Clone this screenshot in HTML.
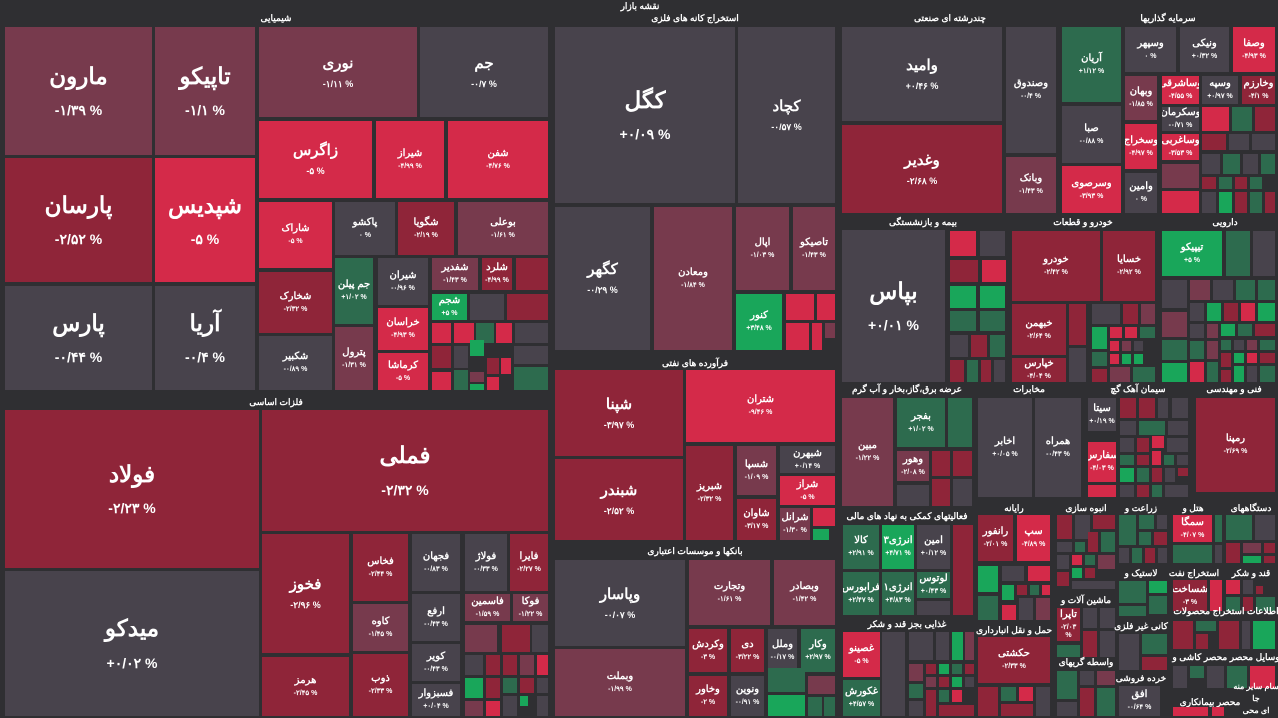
<!DOCTYPE html>
<html><head><meta charset="utf-8"><style>
*{margin:0;padding:0;box-sizing:border-box}
body{width:1278px;height:718px;background:#2f2f32;position:relative;overflow:hidden;font-family:"Liberation Sans","Noto Sans CJK SC",sans-serif;color:#fff;direction:rtl}
.t{position:absolute;display:flex;flex-direction:column;align-items:center;justify-content:center;text-align:center;overflow:hidden;line-height:1.2;font-weight:bold}
.t span{display:block}
.t span+span{direction:ltr;unicode-bidi:isolate}
.g{background:#48434c}.m{background:#773a4d}.d{background:#8f2539}.r{background:#d42a49}.gd{background:#2d6b4e}.gb{background:#19a65a}
.L{font-size:23px}.L span+span{font-size:14px;margin-top:12px}
.M{font-size:15px}.M span+span{font-size:9px;margin-top:6px}
.S{font-size:10px}.S span+span{font-size:7px;margin-top:3px}
.lb{position:absolute;font-size:9px;font-weight:bold;color:#fff;white-space:nowrap;transform:translateX(-50%)}
</style></head><body>
<div class="lb" style="left:640px;top:1px">نقشه بازار</div>
<!-- شیمیایی -->
<div class="lb" style="left:276px;top:13px">شیمیایی</div>
<div class="t m L" style="left:5px;top:27px;width:147px;height:128px"><span>مارون</span><span>-۱/۳۹ %</span></div>
<div class="t m L" style="left:155px;top:27px;width:100px;height:128px"><span>تاپیکو</span><span>-۱/۱ %</span></div>
<div class="t m M" style="left:259px;top:27px;width:158px;height:90px"><span>نوری</span><span>-۱/۱۱ %</span></div>
<div class="t g M" style="left:420px;top:27px;width:128px;height:90px"><span>جم</span><span>-۰/۷ %</span></div>
<div class="t d L" style="left:5px;top:158px;width:147px;height:124px"><span>پارسان</span><span>-۲/۵۲ %</span></div>
<div class="t r L" style="left:155px;top:158px;width:100px;height:124px"><span>شپدیس</span><span>-۵ %</span></div>
<div class="t g L" style="left:5px;top:286px;width:147px;height:104px"><span>پارس</span><span>-۰/۴۴ %</span></div>
<div class="t g L" style="left:155px;top:286px;width:100px;height:104px"><span>آریا</span><span>-۰/۴ %</span></div>
<div class="t r M" style="left:259px;top:121px;width:113px;height:77px"><span>زاگرس</span><span>-۵ %</span></div>
<div class="t r S" style="left:376px;top:121px;width:68px;height:77px"><span>شیراز</span><span>-۴/۹۹ %</span></div>
<div class="t r S" style="left:448px;top:121px;width:100px;height:77px"><span>شفن</span><span>-۴/۷۶ %</span></div>
<div class="t r S" style="left:259px;top:202px;width:73px;height:66px"><span>شاراک</span><span>-۵ %</span></div>
<div class="t g S" style="left:335px;top:202px;width:60px;height:53px"><span>پاکشو</span><span>۰ %</span></div>
<div class="t d S" style="left:398px;top:202px;width:56px;height:53px"><span>شگویا</span><span>-۲/۱۹ %</span></div>
<div class="t m S" style="left:458px;top:202px;width:90px;height:53px"><span>بوعلی</span><span>-۱/۶۱ %</span></div>
<div class="t d S" style="left:259px;top:272px;width:73px;height:61px"><span>شخارک</span><span>-۲/۳۲ %</span></div>
<div class="t g S" style="left:259px;top:336px;width:73px;height:54px"><span>شکبیر</span><span>-۰/۸۹ %</span></div>
<div class="t gd S" style="left:335px;top:258px;width:38px;height:66px"><span>جم پیلن</span><span>+۱/۰۲ %</span></div>
<div class="t m S" style="left:335px;top:327px;width:38px;height:63px"><span>پترول</span><span>-۱/۳۱ %</span></div>
<div class="t g S" style="left:378px;top:258px;width:50px;height:47px"><span>شیران</span><span>-۰/۹۶ %</span></div>
<div class="t r S" style="left:378px;top:308px;width:50px;height:42px"><span>خراسان</span><span>-۴/۹۳ %</span></div>
<div class="t r S" style="left:378px;top:353px;width:50px;height:37px"><span>کرماشا</span><span>-۵ %</span></div>
<div class="t m S" style="left:432px;top:258px;width:46px;height:32px"><span>شفدیر</span><span>-۱/۴۳ %</span></div>
<div class="t d S" style="left:482px;top:258px;width:30px;height:32px"><span>شلرد</span><span>-۴/۹۹ %</span></div>
<div class="t d" style="left:516px;top:258px;width:32px;height:32px"></div>
<div class="t gb S" style="left:432px;top:294px;width:35px;height:26px"><span>شجم</span><span>+۵ %</span></div>
<div class="t g" style="left:470px;top:294px;width:34px;height:26px"></div>
<div class="t d" style="left:507px;top:294px;width:41px;height:26px"></div>
<div class="t r" style="left:432px;top:323px;width:19px;height:20px"></div>
<div class="t r" style="left:454px;top:323px;width:20px;height:20px"></div>
<div class="t gd" style="left:476px;top:323px;width:18px;height:20px"></div>
<div class="t r" style="left:496px;top:323px;width:16px;height:20px"></div>
<div class="t g" style="left:515px;top:323px;width:33px;height:20px"></div>
<div class="t d" style="left:432px;top:346px;width:19px;height:22px"></div>
<div class="t g" style="left:454px;top:346px;width:14px;height:22px"></div>
<div class="t gb" style="left:470px;top:340px;width:14px;height:16px"></div>
<div class="t d" style="left:487px;top:358px;width:12px;height:16px"></div>
<div class="t r" style="left:501px;top:358px;width:10px;height:16px"></div>
<div class="t g" style="left:514px;top:346px;width:34px;height:18px"></div>
<div class="t gd" style="left:454px;top:370px;width:14px;height:20px"></div>
<div class="t m" style="left:470px;top:372px;width:14px;height:10px"></div>
<div class="t gb" style="left:470px;top:384px;width:14px;height:6px"></div>
<div class="t r" style="left:487px;top:377px;width:12px;height:13px"></div>
<div class="t gd" style="left:514px;top:367px;width:34px;height:23px"></div>
<div class="t r" style="left:432px;top:372px;width:19px;height:18px"></div>
<!-- فلزات اساسی -->
<div class="lb" style="left:276px;top:397px">فلزات اساسی</div>
<div class="t d L" style="left:5px;top:410px;width:254px;height:158px"><span>فولاد</span><span>-۲/۲۳ %</span></div>
<div class="t g L" style="left:5px;top:571px;width:254px;height:145px"><span>میدکو</span><span>+۰/۰۲ %</span></div>
<div class="t d L" style="left:262px;top:410px;width:286px;height:121px"><span>فملی</span><span>-۲/۳۲ %</span></div>
<div class="t d M" style="left:262px;top:534px;width:87px;height:119px"><span>فخوز</span><span>-۲/۹۶ %</span></div>
<div class="t d S" style="left:262px;top:657px;width:87px;height:59px"><span>هرمز</span><span>-۲/۴۵ %</span></div>
<div class="t d S" style="left:353px;top:534px;width:55px;height:67px"><span>فخاس</span><span>-۲/۴۴ %</span></div>
<div class="t m S" style="left:353px;top:604px;width:55px;height:47px"><span>کاوه</span><span>-۱/۴۵ %</span></div>
<div class="t d S" style="left:353px;top:654px;width:55px;height:62px"><span>ذوب</span><span>-۲/۳۳ %</span></div>
<div class="t g S" style="left:412px;top:534px;width:48px;height:57px"><span>فجهان</span><span>-۰/۸۳ %</span></div>
<div class="t g S" style="left:465px;top:534px;width:42px;height:57px"><span>فولاژ</span><span>-۰/۳۳ %</span></div>
<div class="t d S" style="left:510px;top:534px;width:38px;height:57px"><span>فایرا</span><span>-۲/۲۷ %</span></div>
<div class="t g S" style="left:412px;top:594px;width:48px;height:47px"><span>ارفع</span><span>-۰/۴۳ %</span></div>
<div class="t m S" style="left:465px;top:594px;width:45px;height:27px"><span>فاسمین</span><span>-۱/۵۹ %</span></div>
<div class="t m S" style="left:513px;top:594px;width:35px;height:27px"><span>فوکا</span><span>-۱/۲۲ %</span></div>
<div class="t g S" style="left:412px;top:644px;width:48px;height:37px"><span>کویر</span><span>-۰/۴۳ %</span></div>
<div class="t g S" style="left:412px;top:684px;width:48px;height:32px"><span>فسبزوار</span><span>+۰/۰۴ %</span></div>
<div class="t m" style="left:465px;top:625px;width:32px;height:27px"></div>
<div class="t d" style="left:502px;top:625px;width:28px;height:27px"></div>
<div class="t g" style="left:532px;top:625px;width:16px;height:27px"></div>
<div class="t g" style="left:465px;top:655px;width:18px;height:20px"></div>
<div class="t d" style="left:486px;top:655px;width:14px;height:20px"></div>
<div class="t d" style="left:503px;top:655px;width:14px;height:20px"></div>
<div class="t m" style="left:520px;top:655px;width:14px;height:20px"></div>
<div class="t r" style="left:537px;top:655px;width:11px;height:20px"></div>
<div class="t gb" style="left:465px;top:678px;width:18px;height:20px"></div>
<div class="t d" style="left:486px;top:678px;width:14px;height:20px"></div>
<div class="t gd" style="left:503px;top:678px;width:14px;height:15px"></div>
<div class="t d" style="left:520px;top:678px;width:14px;height:15px"></div>
<div class="t g" style="left:537px;top:678px;width:11px;height:15px"></div>
<div class="t m" style="left:465px;top:701px;width:18px;height:15px"></div>
<div class="t r" style="left:486px;top:701px;width:14px;height:15px"></div>
<div class="t g" style="left:503px;top:696px;width:14px;height:20px"></div>
<div class="t gb" style="left:520px;top:696px;width:8px;height:10px"></div>
<div class="t g" style="left:537px;top:696px;width:11px;height:20px"></div>
<!-- استخراج کانه -->
<div class="lb" style="left:695px;top:13px">استخراج کانه های فلزی</div>
<div class="t g L" style="left:555px;top:27px;width:180px;height:176px"><span>کگل</span><span>+۰/۰۹ %</span></div>
<div class="t g M" style="left:738px;top:27px;width:97px;height:176px"><span>کچاد</span><span>-۰/۵۷ %</span></div>
<div class="t g M" style="left:555px;top:207px;width:95px;height:143px"><span>کگهر</span><span>-۰/۲۹ %</span></div>
<div class="t m S" style="left:654px;top:207px;width:78px;height:143px"><span>ومعادن</span><span>-۱/۸۴ %</span></div>
<div class="t m S" style="left:736px;top:207px;width:53px;height:83px"><span>اپال</span><span>-۱/۰۳ %</span></div>
<div class="t m S" style="left:793px;top:207px;width:42px;height:83px"><span>تاصیکو</span><span>-۱/۴۳ %</span></div>
<div class="t gb S" style="left:736px;top:294px;width:46px;height:56px"><span>کنور</span><span>+۳/۴۸ %</span></div>
<div class="t r" style="left:786px;top:294px;width:28px;height:26px"></div>
<div class="t r" style="left:817px;top:294px;width:18px;height:26px"></div>
<div class="t r" style="left:786px;top:323px;width:23px;height:27px"></div>
<div class="t r" style="left:812px;top:323px;width:10px;height:27px"></div>
<div class="t m" style="left:825px;top:323px;width:10px;height:15px"></div>
<!-- فرآورده -->
<div class="lb" style="left:695px;top:358px">فرآورده های نفتی</div>
<div class="t d M" style="left:555px;top:370px;width:128px;height:86px"><span>شپنا</span><span>-۳/۹۷ %</span></div>
<div class="t d M" style="left:555px;top:459px;width:128px;height:81px"><span>شبندر</span><span>-۲/۵۲ %</span></div>
<div class="t r S" style="left:686px;top:370px;width:149px;height:72px"><span>شتران</span><span>-۹/۴۶ %</span></div>
<div class="t d S" style="left:686px;top:446px;width:47px;height:94px"><span>شبریز</span><span>-۲/۳۲ %</span></div>
<div class="t m S" style="left:737px;top:446px;width:39px;height:49px"><span>شسپا</span><span>-۱/۰۹ %</span></div>
<div class="t d S" style="left:737px;top:499px;width:39px;height:41px"><span>شاوان</span><span>-۳/۱۷ %</span></div>
<div class="t g S" style="left:780px;top:446px;width:55px;height:27px"><span>شبهرن</span><span>+۰/۱۴ %</span></div>
<div class="t r S" style="left:780px;top:476px;width:55px;height:29px"><span>شراز</span><span>-۵ %</span></div>
<div class="t m S" style="left:780px;top:508px;width:30px;height:32px"><span>شرانل</span><span>-۱/۳۰ %</span></div>
<div class="t r" style="left:813px;top:508px;width:22px;height:18px"></div>
<div class="t gb" style="left:813px;top:529px;width:16px;height:11px"></div>
<!-- بانکها -->
<div class="lb" style="left:695px;top:546px">بانکها و موسسات اعتباری</div>
<div class="t g M" style="left:555px;top:560px;width:130px;height:86px"><span>وپاسار</span><span>-۰/۰۷ %</span></div>
<div class="t m S" style="left:555px;top:649px;width:130px;height:67px"><span>وبملت</span><span>-۱/۹۹ %</span></div>
<div class="t m S" style="left:689px;top:560px;width:81px;height:65px"><span>وتجارت</span><span>-۱/۶۱ %</span></div>
<div class="t m S" style="left:774px;top:560px;width:61px;height:65px"><span>وبصادر</span><span>-۱/۴۲ %</span></div>
<div class="t d S" style="left:689px;top:629px;width:38px;height:43px"><span>وکردش</span><span>-۳ %</span></div>
<div class="t d S" style="left:731px;top:629px;width:33px;height:43px"><span>دی</span><span>-۳/۲۲ %</span></div>
<div class="t g S" style="left:768px;top:629px;width:29px;height:43px"><span>وملل</span><span>-۰/۱۷ %</span></div>
<div class="t gd S" style="left:801px;top:629px;width:34px;height:43px"><span>وکار</span><span>+۲/۹۷ %</span></div>
<div class="t d S" style="left:689px;top:676px;width:38px;height:40px"><span>وخاور</span><span>-۲ %</span></div>
<div class="t g S" style="left:731px;top:676px;width:33px;height:40px"><span>ونوین</span><span>-۰/۹۱ %</span></div>
<div class="t gd" style="left:768px;top:668px;width:37px;height:24px"></div>
<div class="t m" style="left:808px;top:676px;width:27px;height:18px"></div>
<div class="t gb" style="left:768px;top:695px;width:37px;height:21px"></div>
<div class="t gd" style="left:808px;top:697px;width:14px;height:19px"></div>
<div class="t gd" style="left:824px;top:697px;width:11px;height:19px"></div>
<!-- چندرشته -->
<div class="lb" style="left:950px;top:13px">چندرشته ای صنعتی</div>
<div class="t g M" style="left:842px;top:27px;width:160px;height:94px"><span>وامید</span><span>+۰/۴۶ %</span></div>
<div class="t d M" style="left:842px;top:125px;width:160px;height:88px"><span>وغدیر</span><span>-۲/۶۸ %</span></div>
<div class="t g S" style="left:1006px;top:27px;width:50px;height:126px"><span>وصندوق</span><span>-۰/۴ %</span></div>
<div class="t m S" style="left:1006px;top:157px;width:50px;height:56px"><span>وبانک</span><span>-۱/۴۳ %</span></div>
<!-- سرمایه گذاریها -->
<div class="lb" style="left:1168px;top:13px">سرمایه گذاریها</div>
<div class="t gd S" style="left:1062px;top:27px;width:59px;height:75px"><span>آریان</span><span>+۱/۱۲ %</span></div>
<div class="t g S" style="left:1062px;top:106px;width:59px;height:57px"><span>صبا</span><span>-۰/۸۸ %</span></div>
<div class="t r S" style="left:1062px;top:166px;width:59px;height:47px"><span>وسرصوی</span><span>-۳/۹۳ %</span></div>
<div class="t g S" style="left:1125px;top:27px;width:51px;height:45px"><span>وسپهر</span><span>۰ %</span></div>
<div class="t g S" style="left:1180px;top:27px;width:49px;height:45px"><span>ونیکی</span><span>+۰/۳۲ %</span></div>
<div class="t r S" style="left:1233px;top:27px;width:42px;height:45px"><span>وصفا</span><span>-۴/۹۳ %</span></div>
<div class="t m S" style="left:1125px;top:76px;width:32px;height:44px"><span>وبهان</span><span>-۱/۸۵ %</span></div>
<div class="t r S" style="left:1125px;top:124px;width:32px;height:45px"><span>وسخراج</span><span>-۴/۹۷ %</span></div>
<div class="t g S" style="left:1125px;top:173px;width:32px;height:40px"><span>وامین</span><span>۰ %</span></div>
<div class="t r S" style="left:1162px;top:76px;width:37px;height:28px"><span>وساشرقی</span><span>-۴/۵۵ %</span></div>
<div class="t g S" style="left:1202px;top:76px;width:36px;height:28px"><span>وسپه</span><span>+۰/۹۷ %</span></div>
<div class="t d S" style="left:1242px;top:76px;width:33px;height:28px"><span>وخارزم</span><span>-۴/۱ %</span></div>
<div class="t g S" style="left:1162px;top:107px;width:37px;height:24px"><span>وسکرمان</span><span>-۰/۷۱ %</span></div>
<div class="t r S" style="left:1162px;top:134px;width:37px;height:26px"><span>وساغربی</span><span>-۳/۵۳ %</span></div>
<div class="t r" style="left:1202px;top:107px;width:27px;height:24px"></div>
<div class="t gd" style="left:1232px;top:107px;width:20px;height:24px"></div>
<div class="t d" style="left:1255px;top:107px;width:20px;height:24px"></div>
<div class="t d" style="left:1202px;top:134px;width:24px;height:16px"></div>
<div class="t g" style="left:1229px;top:134px;width:20px;height:16px"></div>
<div class="t g" style="left:1252px;top:134px;width:23px;height:16px"></div>
<div class="t m" style="left:1162px;top:164px;width:37px;height:24px"></div>
<div class="t r" style="left:1162px;top:191px;width:37px;height:22px"></div>
<div class="t g" style="left:1202px;top:154px;width:18px;height:20px"></div>
<div class="t gd" style="left:1223px;top:154px;width:17px;height:20px"></div>
<div class="t g" style="left:1243px;top:154px;width:15px;height:20px"></div>
<div class="t gd" style="left:1261px;top:154px;width:14px;height:20px"></div>
<div class="t d" style="left:1202px;top:177px;width:14px;height:12px"></div>
<div class="t gd" style="left:1219px;top:177px;width:13px;height:12px"></div>
<div class="t d" style="left:1235px;top:177px;width:12px;height:12px"></div>
<div class="t gd" style="left:1250px;top:177px;width:12px;height:12px"></div>
<div class="t g" style="left:1202px;top:192px;width:14px;height:21px"></div>
<div class="t gb" style="left:1219px;top:192px;width:13px;height:21px"></div>
<div class="t d" style="left:1235px;top:192px;width:12px;height:21px"></div>
<div class="t gd" style="left:1250px;top:192px;width:12px;height:21px"></div>
<div class="t d" style="left:1265px;top:192px;width:10px;height:21px"></div>
<!-- بیمه -->
<div class="lb" style="left:923px;top:217px">بیمه و بازنشستگی</div>
<div class="t g L" style="left:842px;top:230px;width:103px;height:152px"><span>بپاس</span><span>+۰/۰۱ %</span></div>
<div class="t r" style="left:950px;top:231px;width:26px;height:25px"></div>
<div class="t g" style="left:980px;top:231px;width:25px;height:25px"></div>
<div class="t d" style="left:950px;top:260px;width:28px;height:22px"></div>
<div class="t r" style="left:982px;top:260px;width:24px;height:22px"></div>
<div class="t gb" style="left:950px;top:286px;width:26px;height:22px"></div>
<div class="t gb" style="left:980px;top:286px;width:25px;height:22px"></div>
<div class="t gd" style="left:950px;top:311px;width:26px;height:20px"></div>
<div class="t gd" style="left:980px;top:311px;width:25px;height:20px"></div>
<div class="t g" style="left:950px;top:335px;width:18px;height:22px"></div>
<div class="t d" style="left:971px;top:335px;width:16px;height:22px"></div>
<div class="t gd" style="left:990px;top:335px;width:15px;height:22px"></div>
<div class="t d" style="left:950px;top:360px;width:14px;height:22px"></div>
<div class="t gd" style="left:967px;top:360px;width:11px;height:22px"></div>
<div class="t d" style="left:981px;top:360px;width:10px;height:22px"></div>
<div class="t g" style="left:994px;top:360px;width:11px;height:22px"></div>
<!-- خودرو -->
<div class="lb" style="left:1083px;top:217px">خودرو و قطعات</div>
<div class="t d S" style="left:1012px;top:231px;width:88px;height:70px"><span>خودرو</span><span>-۲/۴۲ %</span></div>
<div class="t d S" style="left:1103px;top:231px;width:52px;height:70px"><span>خسایا</span><span>-۲/۹۲ %</span></div>
<div class="t d S" style="left:1012px;top:304px;width:54px;height:51px"><span>خبهمن</span><span>-۲/۶۴ %</span></div>
<div class="t d S" style="left:1012px;top:358px;width:54px;height:24px"><span>خپارس</span><span>-۴/۰۴ %</span></div>
<div class="t d" style="left:1069px;top:304px;width:17px;height:41px"></div>
<div class="t g" style="left:1069px;top:348px;width:17px;height:34px"></div>
<div class="t g" style="left:1092px;top:304px;width:28px;height:20px"></div>
<div class="t d" style="left:1123px;top:304px;width:15px;height:20px"></div>
<div class="t m" style="left:1141px;top:304px;width:14px;height:20px"></div>
<div class="t gb" style="left:1092px;top:327px;width:15px;height:22px"></div>
<div class="t r" style="left:1110px;top:327px;width:12px;height:11px"></div>
<div class="t r" style="left:1125px;top:327px;width:12px;height:11px"></div>
<div class="t gd" style="left:1140px;top:327px;width:15px;height:11px"></div>
<div class="t r" style="left:1110px;top:341px;width:9px;height:10px"></div>
<div class="t m" style="left:1122px;top:341px;width:9px;height:10px"></div>
<div class="t g" style="left:1134px;top:341px;width:9px;height:10px"></div>
<div class="t gd" style="left:1092px;top:352px;width:15px;height:14px"></div>
<div class="t r" style="left:1110px;top:354px;width:9px;height:10px"></div>
<div class="t gb" style="left:1122px;top:354px;width:9px;height:10px"></div>
<div class="t gb" style="left:1134px;top:354px;width:9px;height:10px"></div>
<div class="t d" style="left:1092px;top:369px;width:15px;height:13px"></div>
<div class="t m" style="left:1110px;top:367px;width:20px;height:15px"></div>
<div class="t gd" style="left:1133px;top:367px;width:22px;height:15px"></div>
<!-- دارویی -->
<div class="lb" style="left:1225px;top:217px">دارویی</div>
<div class="t gb S" style="left:1162px;top:231px;width:60px;height:45px"><span>تیپیکو</span><span>+۵ %</span></div>
<div class="t gd" style="left:1226px;top:231px;width:24px;height:45px"></div>
<div class="t g" style="left:1253px;top:231px;width:22px;height:45px"></div>
<div class="t g" style="left:1162px;top:280px;width:25px;height:28px"></div>
<div class="t m" style="left:1190px;top:280px;width:20px;height:20px"></div>
<div class="t g" style="left:1213px;top:280px;width:20px;height:20px"></div>
<div class="t gd" style="left:1236px;top:280px;width:19px;height:20px"></div>
<div class="t gd" style="left:1258px;top:280px;width:17px;height:20px"></div>
<div class="t g" style="left:1190px;top:303px;width:14px;height:18px"></div>
<div class="t gb" style="left:1207px;top:303px;width:14px;height:18px"></div>
<div class="t d" style="left:1224px;top:303px;width:14px;height:18px"></div>
<div class="t r" style="left:1241px;top:303px;width:14px;height:18px"></div>
<div class="t gb" style="left:1258px;top:303px;width:17px;height:18px"></div>
<div class="t m" style="left:1162px;top:312px;width:25px;height:25px"></div>
<div class="t g" style="left:1190px;top:324px;width:14px;height:14px"></div>
<div class="t m" style="left:1207px;top:324px;width:11px;height:14px"></div>
<div class="t gb" style="left:1221px;top:324px;width:14px;height:12px"></div>
<div class="t gd" style="left:1238px;top:324px;width:14px;height:12px"></div>
<div class="t d" style="left:1255px;top:324px;width:20px;height:12px"></div>
<div class="t gd" style="left:1162px;top:340px;width:25px;height:20px"></div>
<div class="t gd" style="left:1190px;top:341px;width:14px;height:18px"></div>
<div class="t m" style="left:1207px;top:341px;width:11px;height:18px"></div>
<div class="t gd" style="left:1221px;top:340px;width:10px;height:10px"></div>
<div class="t g" style="left:1234px;top:340px;width:10px;height:10px"></div>
<div class="t m" style="left:1247px;top:340px;width:10px;height:10px"></div>
<div class="t gd" style="left:1260px;top:340px;width:15px;height:10px"></div>
<div class="t gb" style="left:1162px;top:363px;width:25px;height:19px"></div>
<div class="t r" style="left:1190px;top:362px;width:14px;height:20px"></div>
<div class="t gd" style="left:1207px;top:362px;width:11px;height:20px"></div>
<div class="t d" style="left:1221px;top:353px;width:10px;height:14px"></div>
<div class="t gb" style="left:1234px;top:353px;width:10px;height:10px"></div>
<div class="t r" style="left:1247px;top:353px;width:10px;height:10px"></div>
<div class="t d" style="left:1260px;top:353px;width:15px;height:10px"></div>
<div class="t gb" style="left:1234px;top:366px;width:10px;height:16px"></div>
<div class="t g" style="left:1247px;top:366px;width:10px;height:16px"></div>
<div class="t gd" style="left:1260px;top:366px;width:15px;height:16px"></div>
<div class="t d" style="left:1221px;top:370px;width:10px;height:12px"></div>
<!-- عرضه برق -->
<div class="lb" style="left:907px;top:384px">عرضه برق،گاز،بخار و آب گرم</div>
<div class="t m S" style="left:842px;top:398px;width:51px;height:108px"><span>مبین</span><span>-۱/۲۲ %</span></div>
<div class="t gd S" style="left:897px;top:398px;width:48px;height:49px"><span>بفجر</span><span>+۱/۰۲ %</span></div>
<div class="t gd" style="left:948px;top:398px;width:24px;height:49px"></div>
<div class="t m S" style="left:897px;top:451px;width:32px;height:30px"><span>وهور</span><span>-۲/۰۸ %</span></div>
<div class="t d" style="left:932px;top:451px;width:18px;height:25px"></div>
<div class="t d" style="left:953px;top:451px;width:19px;height:25px"></div>
<div class="t g" style="left:897px;top:485px;width:32px;height:21px"></div>
<div class="t d" style="left:932px;top:479px;width:18px;height:27px"></div>
<div class="t g" style="left:953px;top:479px;width:19px;height:27px"></div>
<!-- فعالیتهای کمکی -->
<div class="lb" style="left:907px;top:511px">فعالیتهای کمکی به نهاد های مالی</div>
<div class="t gd S" style="left:843px;top:525px;width:36px;height:44px"><span>کالا</span><span>+۲/۹۱ %</span></div>
<div class="t gb S" style="left:882px;top:525px;width:32px;height:44px"><span>انرژی۳</span><span>+۴/۷۱ %</span></div>
<div class="t g S" style="left:917px;top:525px;width:33px;height:44px"><span>امین</span><span>+۰/۱۲ %</span></div>
<div class="t d" style="left:953px;top:525px;width:20px;height:90px"></div>
<div class="t gd S" style="left:843px;top:572px;width:36px;height:43px"><span>فرابورس</span><span>+۲/۴۷ %</span></div>
<div class="t gd S" style="left:882px;top:572px;width:32px;height:43px"><span>انرژی۱</span><span>+۴/۸۳ %</span></div>
<div class="t gd S" style="left:917px;top:572px;width:33px;height:26px"><span>لوتوس</span><span>+۰/۴۳ %</span></div>
<div class="t g" style="left:917px;top:601px;width:33px;height:14px"></div>
<!-- غذایی -->
<div class="lb" style="left:907px;top:619px">غذایی بجز قند و شکر</div>
<div class="t r S" style="left:843px;top:632px;width:37px;height:45px"><span>غصینو</span><span>-۵ %</span></div>
<div class="t gd S" style="left:843px;top:680px;width:37px;height:36px"><span>غکورش</span><span>+۴/۵۷ %</span></div>
<div class="t g" style="left:882px;top:632px;width:23px;height:84px"></div>
<div class="t g" style="left:909px;top:632px;width:24px;height:28px"></div>
<div class="t g" style="left:936px;top:632px;width:13px;height:28px"></div>
<div class="t gb" style="left:952px;top:632px;width:11px;height:28px"></div>
<div class="t m" style="left:965px;top:632px;width:9px;height:28px"></div>
<div class="t m" style="left:909px;top:664px;width:14px;height:17px"></div>
<div class="t d" style="left:926px;top:664px;width:10px;height:10px"></div>
<div class="t gb" style="left:939px;top:664px;width:10px;height:10px"></div>
<div class="t gd" style="left:952px;top:664px;width:10px;height:10px"></div>
<div class="t d" style="left:965px;top:664px;width:9px;height:10px"></div>
<div class="t gd" style="left:909px;top:684px;width:14px;height:14px"></div>
<div class="t m" style="left:926px;top:677px;width:10px;height:10px"></div>
<div class="t d" style="left:939px;top:677px;width:10px;height:10px"></div>
<div class="t gb" style="left:952px;top:677px;width:10px;height:10px"></div>
<div class="t g" style="left:965px;top:677px;width:9px;height:10px"></div>
<div class="t g" style="left:909px;top:701px;width:14px;height:15px"></div>
<div class="t d" style="left:926px;top:690px;width:10px;height:26px"></div>
<div class="t gd" style="left:939px;top:690px;width:10px;height:12px"></div>
<div class="t r" style="left:952px;top:690px;width:10px;height:12px"></div>
<div class="t d" style="left:939px;top:705px;width:35px;height:11px"></div>
<!-- مخابرات -->
<div class="lb" style="left:1029px;top:384px">مخابرات</div>
<div class="t g S" style="left:978px;top:398px;width:54px;height:99px"><span>اخابر</span><span>+۰/۰۵ %</span></div>
<div class="t g S" style="left:1035px;top:398px;width:46px;height:99px"><span>همراه</span><span>-۰/۴۳ %</span></div>
<!-- رایانه -->
<div class="lb" style="left:1014px;top:503px">رایانه</div>
<div class="t d S" style="left:978px;top:515px;width:35px;height:46px"><span>رانفور</span><span>-۲/۰۱ %</span></div>
<div class="t r S" style="left:1017px;top:515px;width:33px;height:46px"><span>سپ</span><span>-۴/۸۹ %</span></div>
<div class="t gb" style="left:978px;top:566px;width:20px;height:26px"></div>
<div class="t g" style="left:1002px;top:566px;width:22px;height:15px"></div>
<div class="t r" style="left:1028px;top:566px;width:22px;height:15px"></div>
<div class="t gd" style="left:978px;top:596px;width:20px;height:24px"></div>
<div class="t gb" style="left:1002px;top:585px;width:12px;height:15px"></div>
<div class="t d" style="left:1017px;top:585px;width:10px;height:10px"></div>
<div class="t gd" style="left:1030px;top:585px;width:9px;height:10px"></div>
<div class="t r" style="left:1042px;top:585px;width:8px;height:10px"></div>
<div class="t r" style="left:1002px;top:605px;width:14px;height:15px"></div>
<div class="t g" style="left:1019px;top:598px;width:14px;height:22px"></div>
<div class="t m" style="left:1036px;top:598px;width:14px;height:22px"></div>
<!-- حمل و نقل -->
<div class="lb" style="left:1014px;top:625px">حمل و نقل انبارداری</div>
<div class="t d S" style="left:978px;top:637px;width:72px;height:46px"><span>حکشتی</span><span>-۲/۳۳ %</span></div>
<div class="t d" style="left:978px;top:687px;width:20px;height:29px"></div>
<div class="t gd" style="left:1001px;top:687px;width:15px;height:14px"></div>
<div class="t r" style="left:1019px;top:687px;width:14px;height:14px"></div>
<div class="t g" style="left:1036px;top:687px;width:14px;height:29px"></div>
<div class="t d" style="left:1001px;top:704px;width:32px;height:12px"></div>
<!-- انبوه سازی -->
<div class="lb" style="left:1086px;top:503px">انبوه سازی</div>
<div class="t d" style="left:1057px;top:515px;width:15px;height:24px"></div>
<div class="t g" style="left:1075px;top:515px;width:15px;height:24px"></div>
<div class="t d" style="left:1093px;top:515px;width:22px;height:14px"></div>
<div class="t g" style="left:1057px;top:542px;width:15px;height:10px"></div>
<div class="t gd" style="left:1075px;top:542px;width:10px;height:10px"></div>
<div class="t d" style="left:1088px;top:532px;width:10px;height:20px"></div>
<div class="t gd" style="left:1101px;top:532px;width:14px;height:20px"></div>
<div class="t g" style="left:1057px;top:555px;width:12px;height:14px"></div>
<div class="t r" style="left:1072px;top:555px;width:10px;height:10px"></div>
<div class="t gd" style="left:1085px;top:555px;width:10px;height:10px"></div>
<div class="t m" style="left:1098px;top:555px;width:17px;height:14px"></div>
<div class="t d" style="left:1057px;top:572px;width:12px;height:14px"></div>
<div class="t gb" style="left:1072px;top:568px;width:10px;height:10px"></div>
<div class="t d" style="left:1085px;top:568px;width:10px;height:10px"></div>
<div class="t g" style="left:1072px;top:581px;width:43px;height:8px"></div>
<div class="lb" style="left:1086px;top:595px">ماشین آلات و</div>
<div class="t d S" style="left:1057px;top:608px;width:23px;height:33px"><span>تاپرا</span><span>-۲/۰۳ %</span></div>
<div class="t g" style="left:1083px;top:608px;width:14px;height:20px"></div>
<div class="t g" style="left:1100px;top:608px;width:15px;height:20px"></div>
<div class="t gd" style="left:1057px;top:645px;width:23px;height:12px"></div>
<div class="t d" style="left:1083px;top:631px;width:14px;height:26px"></div>
<div class="t g" style="left:1100px;top:631px;width:15px;height:26px"></div>
<div class="lb" style="left:1086px;top:657px">واسطه گریهای</div>
<div class="t gd" style="left:1057px;top:671px;width:20px;height:28px"></div>
<div class="t g" style="left:1080px;top:671px;width:14px;height:14px"></div>
<div class="t m" style="left:1097px;top:671px;width:18px;height:14px"></div>
<div class="t d" style="left:1080px;top:688px;width:14px;height:28px"></div>
<div class="t gd" style="left:1097px;top:688px;width:18px;height:28px"></div>
<div class="t g" style="left:1057px;top:702px;width:20px;height:14px"></div>
<!-- سیمان -->
<div class="lb" style="left:1138px;top:384px">سیمان آهک گچ</div>
<div class="t g S" style="left:1088px;top:398px;width:28px;height:33px"><span>سیتا</span><span>+۰/۱۹ %</span></div>
<div class="t r S" style="left:1088px;top:442px;width:28px;height:40px"><span>سفارس</span><span>-۴/۰۳ %</span></div>
<div class="t r" style="left:1088px;top:485px;width:28px;height:12px"></div>
<div class="t d" style="left:1120px;top:398px;width:16px;height:20px"></div>
<div class="t d" style="left:1139px;top:398px;width:16px;height:20px"></div>
<div class="t g" style="left:1158px;top:398px;width:10px;height:20px"></div>
<div class="t g" style="left:1172px;top:398px;width:16px;height:20px"></div>
<div class="t g" style="left:1120px;top:421px;width:16px;height:14px"></div>
<div class="t gd" style="left:1139px;top:421px;width:26px;height:14px"></div>
<div class="t g" style="left:1168px;top:421px;width:20px;height:14px"></div>
<div class="t g" style="left:1120px;top:438px;width:14px;height:14px"></div>
<div class="t d" style="left:1137px;top:438px;width:12px;height:14px"></div>
<div class="t r" style="left:1152px;top:436px;width:12px;height:12px"></div>
<div class="t g" style="left:1167px;top:438px;width:21px;height:14px"></div>
<div class="t gd" style="left:1120px;top:455px;width:14px;height:10px"></div>
<div class="t d" style="left:1137px;top:455px;width:12px;height:10px"></div>
<div class="t r" style="left:1152px;top:451px;width:9px;height:14px"></div>
<div class="t gd" style="left:1164px;top:455px;width:10px;height:10px"></div>
<div class="t g" style="left:1177px;top:455px;width:11px;height:10px"></div>
<div class="t gb" style="left:1120px;top:468px;width:14px;height:14px"></div>
<div class="t gd" style="left:1137px;top:468px;width:12px;height:14px"></div>
<div class="t d" style="left:1152px;top:468px;width:10px;height:14px"></div>
<div class="t g" style="left:1165px;top:468px;width:10px;height:14px"></div>
<div class="t d" style="left:1178px;top:468px;width:10px;height:8px"></div>
<div class="t g" style="left:1120px;top:485px;width:14px;height:12px"></div>
<div class="t d" style="left:1137px;top:485px;width:12px;height:12px"></div>
<div class="t gd" style="left:1152px;top:485px;width:10px;height:12px"></div>
<div class="t g" style="left:1165px;top:485px;width:23px;height:12px"></div>
<!-- فنی و مهندسی -->
<div class="lb" style="left:1234px;top:384px">فنی و مهندسی</div>
<div class="t d S" style="left:1196px;top:398px;width:79px;height:94px"><span>رمپنا</span><span>-۲/۶۹ %</span></div>
<!-- زراعت -->
<div class="lb" style="left:1141px;top:503px">زراعت و</div>
<div class="t gd" style="left:1119px;top:515px;width:17px;height:30px"></div>
<div class="t gd" style="left:1139px;top:515px;width:15px;height:14px"></div>
<div class="t g" style="left:1157px;top:515px;width:10px;height:14px"></div>
<div class="t gd" style="left:1139px;top:532px;width:12px;height:13px"></div>
<div class="t d" style="left:1154px;top:532px;width:13px;height:13px"></div>
<div class="t g" style="left:1119px;top:548px;width:10px;height:15px"></div>
<div class="t gd" style="left:1132px;top:548px;width:10px;height:15px"></div>
<div class="t d" style="left:1145px;top:548px;width:10px;height:15px"></div>
<div class="t g" style="left:1158px;top:548px;width:9px;height:15px"></div>
<div class="lb" style="left:1141px;top:568px">لاستیک و</div>
<div class="t gd" style="left:1119px;top:581px;width:27px;height:22px"></div>
<div class="t gb" style="left:1149px;top:581px;width:18px;height:12px"></div>
<div class="t gd" style="left:1149px;top:596px;width:18px;height:18px"></div>
<div class="t gd" style="left:1119px;top:606px;width:27px;height:10px"></div>
<div class="lb" style="left:1141px;top:621px">کانی غیر فلزی</div>
<div class="t g" style="left:1119px;top:634px;width:20px;height:36px"></div>
<div class="t gd" style="left:1142px;top:634px;width:25px;height:20px"></div>
<div class="t d" style="left:1142px;top:657px;width:25px;height:13px"></div>
<div class="lb" style="left:1141px;top:673px">خرده فروشی</div>
<div class="t g S" style="left:1119px;top:686px;width:41px;height:30px"><span>افق</span><span>-۰/۶۴ %</span></div>
<!-- هتل و -->
<div class="lb" style="left:1193px;top:503px">هتل و</div>
<div class="t r S" style="left:1173px;top:515px;width:39px;height:27px"><span>سمگا</span><span>-۴/۰۷ %</span></div>
<div class="t gd" style="left:1215px;top:515px;width:7px;height:27px"></div>
<div class="t gd" style="left:1173px;top:545px;width:39px;height:18px"></div>
<div class="t g" style="left:1215px;top:545px;width:7px;height:18px"></div>
<div class="lb" style="left:1194px;top:568px">استخراج نفت</div>
<div class="t d S" style="left:1173px;top:580px;width:34px;height:31px"><span>شساخت</span><span>-۳ %</span></div>
<div class="t r" style="left:1210px;top:580px;width:12px;height:31px"></div>
<!-- دستگاههای -->
<div class="lb" style="left:1251px;top:503px">دستگاههای</div>
<div class="t gd" style="left:1226px;top:515px;width:26px;height:25px"></div>
<div class="t g" style="left:1255px;top:515px;width:20px;height:25px"></div>
<div class="t d" style="left:1226px;top:543px;width:14px;height:20px"></div>
<div class="t m" style="left:1243px;top:543px;width:18px;height:10px"></div>
<div class="t d" style="left:1264px;top:543px;width:11px;height:10px"></div>
<div class="t gb" style="left:1243px;top:556px;width:18px;height:7px"></div>
<div class="t d" style="left:1264px;top:556px;width:11px;height:7px"></div>
<div class="lb" style="left:1251px;top:568px">قند و شکر</div>
<div class="t r" style="left:1226px;top:580px;width:14px;height:14px"></div>
<div class="t g" style="left:1243px;top:580px;width:10px;height:14px"></div>
<div class="t d" style="left:1256px;top:586px;width:7px;height:8px"></div>
<div class="t gd" style="left:1226px;top:597px;width:14px;height:14px"></div>
<div class="t d" style="left:1243px;top:597px;width:10px;height:14px"></div>
<div class="t gd" style="left:1256px;top:597px;width:19px;height:14px"></div>
<div class="lb" style="left:1226px;top:606px">اطلاعات استخراج محصولات</div>
<div class="t d" style="left:1173px;top:621px;width:20px;height:28px"></div>
<div class="t gd" style="left:1196px;top:621px;width:20px;height:10px"></div>
<div class="t d" style="left:1196px;top:634px;width:12px;height:15px"></div>
<div class="t d" style="left:1219px;top:621px;width:20px;height:28px"></div>
<div class="t g" style="left:1242px;top:621px;width:8px;height:28px"></div>
<div class="t gb" style="left:1253px;top:621px;width:22px;height:28px"></div>
<div class="lb" style="left:1226px;top:652px">وسایل محصر محصر کاشی و</div>
<div class="t g" style="left:1173px;top:666px;width:14px;height:22px"></div>
<div class="t gd" style="left:1190px;top:666px;width:14px;height:12px"></div>
<div class="t g" style="left:1207px;top:666px;width:17px;height:22px"></div>
<div class="t gd" style="left:1227px;top:666px;width:20px;height:22px"></div>
<div class="t r" style="left:1250px;top:666px;width:25px;height:22px"></div>
<div class="lb" style="left:1210px;top:697px">محصر بیمانکاری</div>
<div class="t r" style="left:1173px;top:707px;width:35px;height:9px"></div>
<div class="t r" style="left:1212px;top:707px;width:12px;height:9px"></div>
<div class="lb" style="left:1256px;top:682px;font-size:8px">سام سایر منه</div>
<div class="lb" style="left:1256px;top:694px;font-size:8px">جا</div>
<div class="lb" style="left:1256px;top:706px;font-size:8px">ای محی</div>
</body></html>
